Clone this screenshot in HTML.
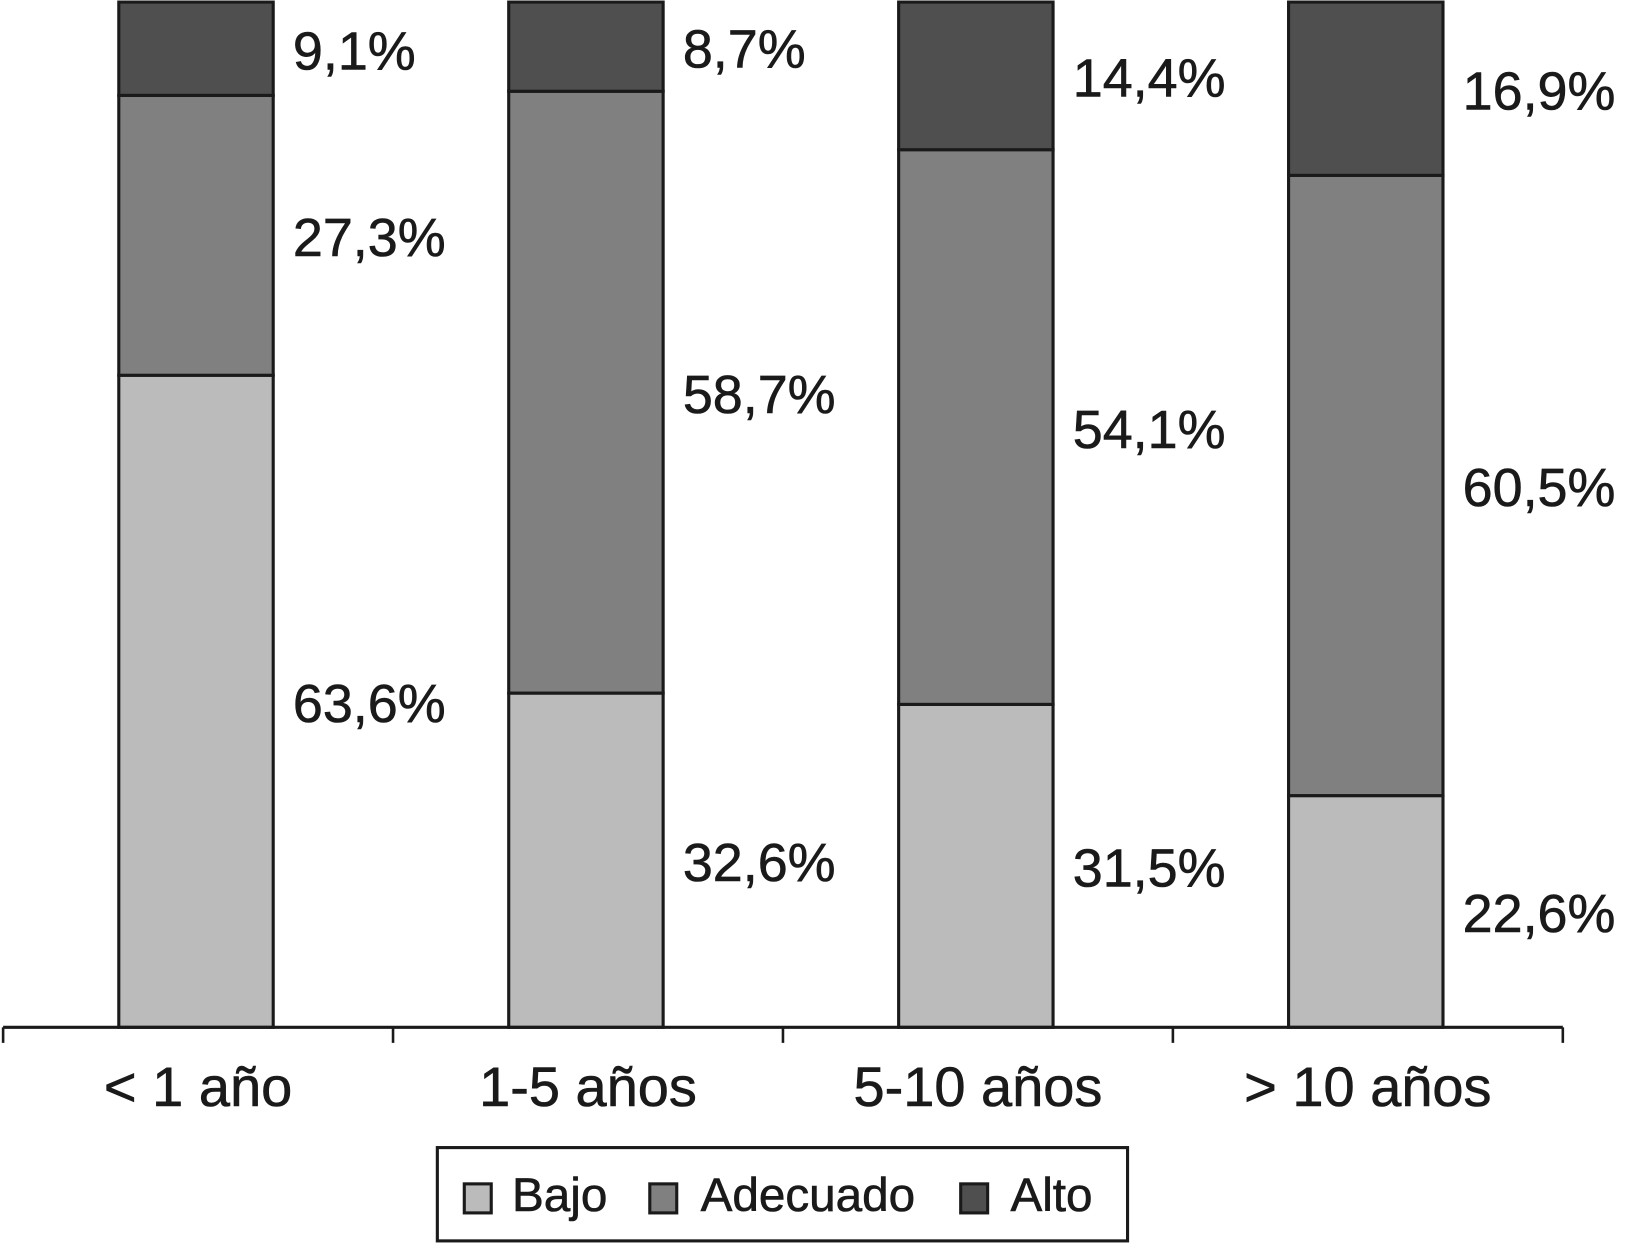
<!DOCTYPE html>
<html><head><meta charset="utf-8"><style>
html,body{margin:0;padding:0;background:#fff;}
svg{display:block;}
text{font-family:"Liberation Sans",Arial,sans-serif;fill:#1a1a1a;stroke:#1a1a1a;stroke-width:0.6;}
</style></head><body>
<svg id="chart" width="1625" height="1244" viewBox="0 0 1568 1200" preserveAspectRatio="none" xmlns="http://www.w3.org/2000/svg">
<g id="bars"></g>
<g id="axis"></g>
<g>
<rect x="422" y="1107" width="666" height="90" fill="#fff" stroke="#1a1a1a" stroke-width="3"/>
<rect x="448" y="1142" width="26" height="28" fill="#bbbbbb" stroke="#1a1a1a" stroke-width="3"/>
<text x="494" y="1168" font-size="46">Bajo</text>
<rect x="627" y="1142" width="26" height="28" fill="#808080" stroke="#1a1a1a" stroke-width="3"/>
<text x="676" y="1168" font-size="46">Adecuado</text>
<rect x="927" y="1142" width="26" height="28" fill="#4f4f4f" stroke="#1a1a1a" stroke-width="3"/>
<text x="975" y="1168" font-size="46">Alto</text>
</g>
</svg>
<script>
const categories = ["< 1 año", "1-5 años", "5-10 años", "> 10 años"];
const bajo = [63.6, 32.6, 31.5, 22.6];
const adecuado = [27.3, 58.7, 54.1, 60.5];
const alto = [9.1, 8.7, 14.4, 16.9];
const seriesNames = ["bajo", "adecuado", "alto"];

const NS = "http://www.w3.org/2000/svg";
const baseY = 991, fullH = 989;
const axisL = 3, axisR = 1508;
const slot = (axisR - axisL) / categories.length;
const barW = 149;
function y(v){ return baseY - v / 100 * fullH; }
function xc(i){ return axisL + slot * (i + 0.5); }
const colors = ["#bbbbbb", "#808080", "#4f4f4f"];
const series = [bajo, adecuado, alto];
const barsG = document.getElementById("bars");
const axisG = document.getElementById("axis");

categories.forEach((c, i) => {
  let cum = 0;
  const x0 = xc(i) - barW / 2 - 2;
  series.forEach((s, k) => {
    const v = s[i];
    const top = y(cum + v), bot = y(cum);
    const r = document.createElementNS(NS, "rect");
    r.setAttribute("x", x0); r.setAttribute("y", top);
    r.setAttribute("width", barW); r.setAttribute("height", bot - top);
    r.setAttribute("fill", colors[k]); r.setAttribute("stroke", "#1a1a1a"); r.setAttribute("stroke-width", "3");
    
    
    barsG.appendChild(r);
    const t = document.createElementNS(NS, "text");
    t.setAttribute("x", x0 + barW + 19);
    t.setAttribute("y", (top + bot) / 2 + 20);
    t.setAttribute("font-size", "52");
    t.textContent = v.toFixed(1).replace(".", ",") + "%";
    
    
    barsG.appendChild(t);
    cum += v;
  });
  const lab = document.createElementNS(NS, "text");
  lab.setAttribute("x", xc(i)); lab.setAttribute("y", 1067);
  lab.setAttribute("font-size", "54"); lab.setAttribute("text-anchor", "middle");
  lab.textContent = c;
  
  
  axisG.appendChild(lab);
});
const line = document.createElementNS(NS, "line");
line.setAttribute("x1", axisL); line.setAttribute("x2", axisR);
line.setAttribute("y1", baseY); line.setAttribute("y2", baseY);
line.setAttribute("stroke", "#1a1a1a"); line.setAttribute("stroke-width", "3");


axisG.appendChild(line);
for (let i = 0; i <= categories.length; i++) {
  const tk = document.createElementNS(NS, "line");
  const tx = axisL + slot * i;
  tk.setAttribute("x1", tx); tk.setAttribute("x2", tx);
  tk.setAttribute("y1", baseY); tk.setAttribute("y2", 1006);
  tk.setAttribute("stroke", "#1a1a1a"); tk.setAttribute("stroke-width", "2.5");
  
  
  axisG.appendChild(tk);
}
</script>
</body></html>
